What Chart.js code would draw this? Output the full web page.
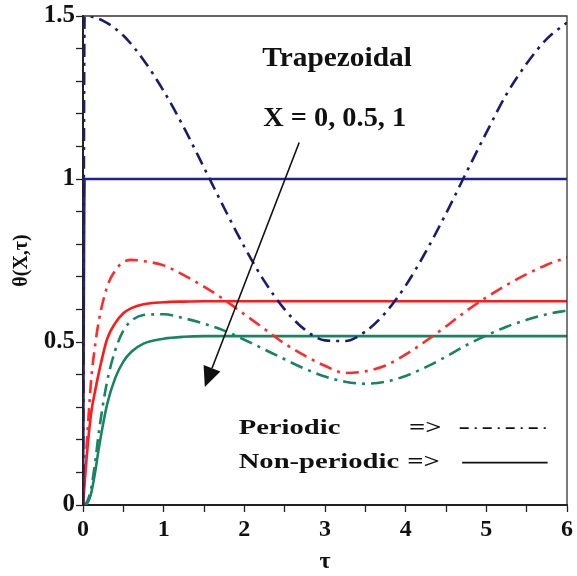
<!DOCTYPE html>
<html>
<head>
<meta charset="utf-8">
<script src="https://cdn.jsdelivr.net/npm/chart.js@4.4.1/dist/chart.umd.min.js"></script>
<style>
  html, body { margin: 0; padding: 0; background: #fff; }
  #wrap { width: 577px; height: 576px; }
</style>
</head>
<body>
<div id="wrap"><canvas id="myChart" width="577" height="576"></canvas></div>
<script>
// tau samples for the X = 0.5 and X = 1 curves
const tau = [0, 0.05, 0.1, 0.15, 0.2, 0.3, 0.4, 0.5, 0.6, 0.75, 1, 1.25, 1.5, 1.75, 2, 2.25,
  2.5, 2.75, 3, 3.25, 3.5, 3.75, 4, 4.25, 4.5, 4.75, 5, 5.25, 5.5, 5.75, 6];

// X = 0.5
const redPeriodic = [0, 0.2, 0.38, 0.49, 0.57, 0.67, 0.72, 0.745, 0.752, 0.748, 0.735, 0.705,
  0.67, 0.63, 0.585, 0.54, 0.495, 0.458, 0.427, 0.405, 0.41, 0.428, 0.462, 0.503, 0.548,
  0.595, 0.637, 0.675, 0.708, 0.737, 0.76];
const redSteady = [0, 0.16, 0.28, 0.35, 0.41, 0.51, 0.558, 0.588, 0.604, 0.616, 0.622, 0.624,
  0.625, 0.625, 0.625, 0.625, 0.625, 0.625, 0.625, 0.625, 0.625, 0.625, 0.625, 0.625, 0.625,
  0.625, 0.625, 0.625, 0.625, 0.625, 0.625];

// X = 1
const greenPeriodic = [0, 0.01, 0.05, 0.13, 0.23, 0.38, 0.475, 0.535, 0.565, 0.583, 0.585,
  0.573, 0.556, 0.535, 0.507, 0.477, 0.447, 0.418, 0.394, 0.378, 0.372, 0.378, 0.396, 0.423,
  0.455, 0.49, 0.52, 0.547, 0.568, 0.585, 0.597];
const greenSteady = [0, 0.005, 0.035, 0.1, 0.18, 0.31, 0.39, 0.44, 0.47, 0.495, 0.51, 0.516,
  0.518, 0.518, 0.518, 0.518, 0.518, 0.518, 0.518, 0.518, 0.518, 0.518, 0.518, 0.518, 0.518,
  0.518, 0.518, 0.518, 0.518, 0.518, 0.518];

// X = 0 (boundary)
const tauBlue = [0, 0.02, 0.25, 0.5, 0.75, 1, 1.25, 1.5, 1.75, 2, 2.25, 2.5, 2.75, 3, 3.25,
  3.5, 3.75, 4, 4.25, 4.5, 4.75, 5, 5.25, 5.5, 5.75, 6];
const bluePeriodic = [0, 1.5, 1.485, 1.44, 1.365, 1.27, 1.158, 1.035, 0.911, 0.792, 0.686,
  0.6, 0.538, 0.505, 0.503, 0.532, 0.59, 0.673, 0.777, 0.894, 1.019, 1.142, 1.26, 1.354,
  1.43, 1.48];
const tauBlueSteady = [0, 0.02, 6];
const blueSteady = [0, 1, 1];

const xTicks = [0, 1, 2, 3, 4, 5, 6];
const yTickLabels = [0, 0.5, 1, 1.5];

const serif = "'Liberation Serif', 'Times New Roman', serif";
const dashDot = [13, 6, 3, 6];

const pts = (xs, ys) => xs.map((t, i) => ({x: t, y: ys[i]}));

const lineSet = (label, xs, ys, color, dashed) => ({
  label,
  data: pts(xs, ys),
  borderColor: color,
  borderWidth: 2.6,
  borderDash: dashed ? dashDot : [],
  pointRadius: 0,
  fill: false,
  cubicInterpolationMode: 'monotone',
});

const annotations = {
  id: 'annotations',
  afterDraw(chart) {
    const {ctx, chartArea, scales} = chart;
    const px = (v) => scales.x.getPixelForValue(v);
    const py = (v) => scales.y.getPixelForValue(v);
    ctx.save();

    // frame on top and right
    ctx.strokeStyle = '#333';
    ctx.lineWidth = 1.3;
    ctx.beginPath();
    ctx.moveTo(chartArea.left, chartArea.top);
    ctx.lineTo(chartArea.right, chartArea.top);
    ctx.lineTo(chartArea.right, chartArea.bottom);
    ctx.stroke();

    const text = (str, x, y, size, sx, align) => {
      ctx.save();
      ctx.font = `bold ${size}px ${serif}`;
      ctx.fillStyle = '#111';
      ctx.textBaseline = 'middle';
      ctx.textAlign = align || 'left';
      ctx.translate(x, y);
      ctx.scale(sx, 1);
      ctx.fillText(str, 0, 0);
      ctx.restore();
    };

    text('Trapezoidal', px(3.15), py(1.37), 28, 1.05, 'center');
    text('X = 0, 0.5, 1', px(3.12), py(1.185), 27, 1.05, 'center');

    // arrow
    const x1 = px(2.68), y1 = py(1.112), x2 = px(1.51), y2 = py(0.362);
    const ang = Math.atan2(y2 - y1, x2 - x1);
    const head = 20;
    ctx.strokeStyle = '#111';
    ctx.fillStyle = '#111';
    ctx.lineWidth = 1.6;
    ctx.beginPath();
    ctx.moveTo(x1, y1);
    ctx.lineTo(x2 - head * Math.cos(ang), y2 - head * Math.sin(ang));
    ctx.stroke();
    ctx.beginPath();
    ctx.moveTo(x2, y2);
    ctx.lineTo(x2 - head * Math.cos(ang) + 9 * Math.sin(ang), y2 - head * Math.sin(ang) - 9 * Math.cos(ang));
    ctx.lineTo(x2 - head * Math.cos(ang) - 9 * Math.sin(ang), y2 - head * Math.sin(ang) + 9 * Math.cos(ang));
    ctx.closePath();
    ctx.fill();

    // legend
    text('Periodic', px(1.93), py(0.236), 22, 1.3);
    text('=>', px(4.04), py(0.236), 22, 1.3);
    text('Non-periodic', px(1.93), py(0.13), 22, 1.3);
    text('=>', px(4.02), py(0.13), 22, 1.3);

    ctx.strokeStyle = '#111';
    ctx.lineWidth = 1.8;
    ctx.setLineDash([9, 6, 2, 6]);
    ctx.beginPath();
    ctx.moveTo(px(4.67), py(0.236));
    ctx.lineTo(px(5.81), py(0.236));
    ctx.stroke();
    ctx.setLineDash([]);
    ctx.beginPath();
    ctx.moveTo(px(4.7), py(0.13));
    ctx.lineTo(px(5.76), py(0.13));
    ctx.stroke();

    ctx.restore();
  },
};

new Chart(document.getElementById('myChart'), {
  type: 'line',
  data: {
    datasets: [
      lineSet('X = 0 periodic', tauBlue, bluePeriodic, '#1c1c6e', true),
      lineSet('X = 0 non-periodic', tauBlueSteady, blueSteady, '#20209a', false),
      lineSet('X = 0.5 periodic', tau, redPeriodic, '#ff2a2a', true),
      lineSet('X = 0.5 non-periodic', tau, redSteady, '#ff1a1a', false),
      lineSet('X = 1 periodic', tau, greenPeriodic, '#178462', true),
      lineSet('X = 1 non-periodic', tau, greenSteady, '#178462', false),
    ],
  },
  options: {
    responsive: false,
    animation: false,
    layout: {autoPadding: false, padding: {top: 15, right: 10, left: 0, bottom: 0}},
    plugins: {legend: {display: false}, tooltip: {enabled: false}},
    scales: {
      x: {
        type: 'linear',
        min: 0,
        max: 6,
        afterFit: (scale) => { scale.height = 71; },
        ticks: {
          stepSize: 0.5,
          autoSkip: false,
          maxRotation: 0,
          padding: 3,
          color: '#111',
          font: {family: serif, size: 24, weight: 'bold'},
          callback: (v) => (xTicks.includes(v) ? String(v) : ''),
        },
        grid: {drawOnChartArea: false, tickLength: 7, tickColor: '#222', tickWidth: 1.3},
        border: {color: '#222', width: 2},
        title: {display: true, text: 'τ', color: '#111', padding: {top: 0, bottom: 0},
          font: {family: serif, size: 24, weight: 'bold'}},
      },
      y: {
        min: 0,
        max: 1.5,
        afterFit: (scale) => { scale.width = 83; },
        ticks: {
          stepSize: 0.1,
          autoSkip: false,
          padding: 1,
          color: '#111',
          font: {family: serif, size: 25, weight: 'bold'},
          callback: (v) => {
            const r = Math.round(v * 10) / 10;
            return yTickLabels.includes(r) ? String(r) : '';
          },
        },
        grid: {drawOnChartArea: false, tickLength: 7, tickColor: '#222', tickWidth: 1.3},
        border: {color: '#222', width: 2},
        title: {display: true, text: 'θ(X,τ)', color: '#111', padding: {top: 10, bottom: 0},
          font: {family: serif, size: 20, weight: 'bold'}},
      },
    },
  },
  plugins: [annotations],
});
</script>
</body>
</html>
